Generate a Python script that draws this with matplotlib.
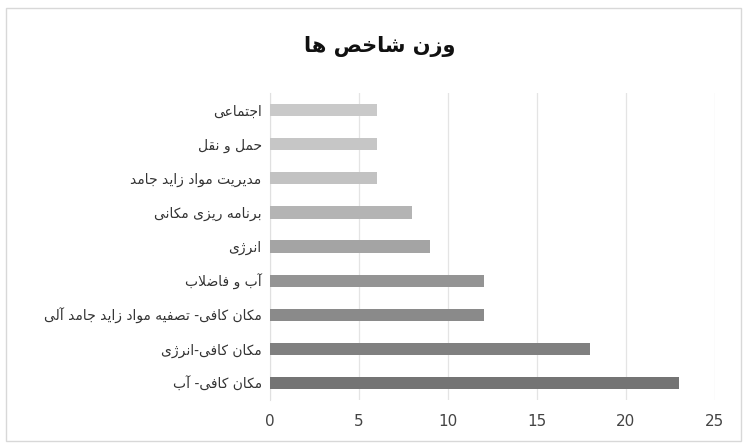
import matplotlib
matplotlib.use('Agg')
import matplotlib.pyplot as plt
from matplotlib.patches import Rectangle

# data (bottom to top)
categories = ['مکان کافی- آب', 'مکان کافی-انرژی', 'مکان کافی- تصفیه مواد زاید جامد آلی',
              'آب و فاضلاب', 'انرژی', 'برنامه ریزی مکانی', 'مدیریت مواد زاید جامد',
              'حمل و نقل', 'اجتماعی']
values = [23, 18, 12, 12, 9, 8, 6, 6, 6]
bar_colors = ['#747474', '#808080', '#8a8a8a', '#949494', '#a4a4a4',
              '#b4b4b4', '#c2c2c2', '#c6c6c6', '#c9c9c9']
title = 'وزن شاخص ها'

# matplotlib has no arabic shaping, so do a small one by hand
# letter: (isolated, final, initial, medial)
FORMS = {
    'ا': ('\uFE8D', '\uFE8E', None, None),
    'آ': ('\uFE81', '\uFE82', None, None),
    'ب': ('\uFE8F', '\uFE90', '\uFE91', '\uFE92'),
    'ت': ('\uFE95', '\uFE96', '\uFE97', '\uFE98'),
    'ج': ('\uFE9D', '\uFE9E', '\uFE9F', '\uFEA0'),
    'ح': ('\uFEA1', '\uFEA2', '\uFEA3', '\uFEA4'),
    'خ': ('\uFEA5', '\uFEA6', '\uFEA7', '\uFEA8'),
    'د': ('\uFEA9', '\uFEAA', None, None),
    'ر': ('\uFEAD', '\uFEAE', None, None),
    'ز': ('\uFEAF', '\uFEB0', None, None),
    'ژ': ('\uFB8A', '\uFB8B', None, None),
    'ش': ('\uFEB5', '\uFEB6', '\uFEB7', '\uFEB8'),
    'ص': ('\uFEB9', '\uFEBA', '\uFEBB', '\uFEBC'),
    'ض': ('\uFEBD', '\uFEBE', '\uFEBF', '\uFEC0'),
    'ع': ('\uFEC9', '\uFECA', '\uFECB', '\uFECC'),
    'ف': ('\uFED1', '\uFED2', '\uFED3', '\uFED4'),
    'ق': ('\uFED5', '\uFED6', '\uFED7', '\uFED8'),
    'ک': ('\uFB8E', '\uFB8F', '\uFB90', '\uFB91'),
    'ل': ('\uFEDD', '\uFEDE', '\uFEDF', '\uFEE0'),
    'م': ('\uFEE1', '\uFEE2', '\uFEE3', '\uFEE4'),
    'ن': ('\uFEE5', '\uFEE6', '\uFEE7', '\uFEE8'),
    'ه': ('\uFEE9', '\uFEEA', '\uFEEB', '\uFEEC'),
    'و': ('\uFEED', '\uFEEE', None, None),
    'ی': ('\uFBFC', '\uFBFD', '\uFBFE', '\uFBFF'),
}
LAM_ALEF = {'ا': ('\uFEFB', '\uFEFC'), 'آ': ('\uFEF5', '\uFEF6')}


def shape(text):
    out = []
    i = 0
    n = len(text)
    while i < n:
        c = text[i]
        if c not in FORMS:
            out.append(c)
            i += 1
            continue
        prev = text[i - 1] if i > 0 else None
        join_prev = prev in FORMS and FORMS[prev][2] is not None
        nxt = text[i + 1] if i + 1 < n else None
        if c == 'ل' and nxt in LAM_ALEF:
            out.append(LAM_ALEF[nxt][1 if join_prev else 0])
            i += 2
            continue
        join_next = nxt in FORMS and FORMS[c][2] is not None
        iso, fin, ini, med = FORMS[c]
        if join_prev and join_next:
            out.append(med)
        elif join_prev:
            out.append(fin)
        elif join_next:
            out.append(ini)
        else:
            out.append(iso)
        i += 1
    return ''.join(out)[::-1]


fig = plt.figure(figsize=(7.47, 4.46), dpi=100)
ax = fig.add_axes([0.3614, 0.103, 0.5957, 0.6885])

pos = range(len(categories))
ax.barh(pos, values, height=0.36, color=bar_colors, zorder=3)
ax.set_xlim(0, 25)
ax.set_ylim(-0.5, len(categories) - 0.5)
ax.set_xticks([0, 5, 10, 15, 20, 25])
ax.set_yticks(list(pos))
ax.set_yticklabels([shape(c) for c in categories], fontsize=10, color='#333333')
ax.tick_params(axis='x', labelsize=11, colors='#444444', length=0, pad=10)
ax.tick_params(axis='y', length=0, pad=6)
ax.grid(axis='x', color='#e4e4e4', linewidth=0.9, zorder=0)
for s in ['top', 'right', 'bottom']:
    ax.spines[s].set_visible(False)
ax.spines['left'].set_color('#e0e0e0')

fig.text(0.509, 0.895, shape(title), ha='center', va='center', fontsize=15,
         fontweight='bold', color='#111111')

# chart border
fig.patches.append(Rectangle((0.008, 0.012), 0.984, 0.97, transform=fig.transFigure,
                             fill=False, edgecolor='#d8d8d8', linewidth=1))

fig.savefig('out.png', dpi=100)
